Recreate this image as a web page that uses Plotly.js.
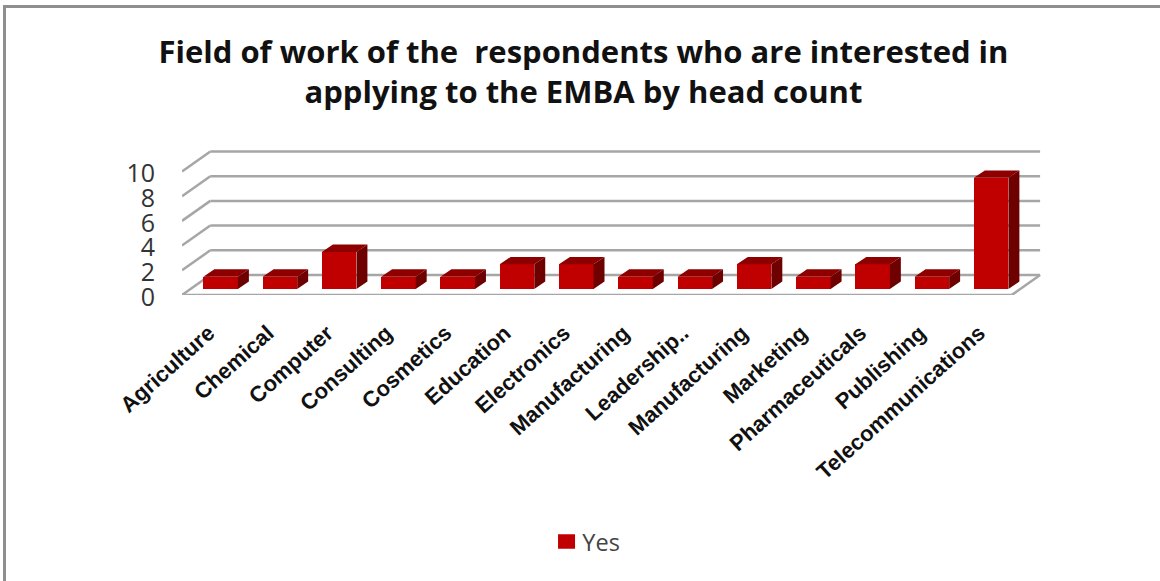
<!DOCTYPE html>
<html>
<head>
<meta charset="utf-8">
<script src="https://cdn.plot.ly/plotly-3.0.1.min.js"></script>
<style>
html,body{margin:0;padding:0;background:#fff;overflow:hidden}
#frame{position:absolute;left:3px;top:5px;width:1157px;height:576px;box-sizing:border-box;
  border-top:3px solid #8f8f8f;border-left:3px solid #8f8f8f}
#chart{position:absolute;left:0;top:0;width:1160px;height:581px}
</style>
</head>
<body>
<div id="frame"></div>
<div id="chart"></div>
<script>
// Head count per field of work
const categories = ["Agriculture","Chemical","Computer","Consulting","Cosmetics","Education","Electronics",
  "Manufacturing","Leadership..","Manufacturing","Marketing","Pharmaceuticals","Publishing","Telecommunications"];
const yesCounts = [1,1,3,1,1,2,2,1,1,2,1,2,1,9];
const valueTicks = [0,2,4,6,8,10];
const positions = categories.map((_, i) => i);

// Pseudo-3D projection, expressed in axis units
const BOX_DEPTH = {x: 0.478, y: 1.62};   // front plane to back wall
const BAR_OFFSET = {x: 0.152, y: 0.486}; // front plane to bar front face
const BAR_DEPTH = {x: 0.185, y: 0.6};    // bar front face to bar back face
const BAR_WIDTH = 0.583;
const X_START = -0.5, X_END = 13.5;

const RED = "#C00000", RED_TOP = "#8E0000", RED_SIDE = "#6E0000", GRID = "#A6A6A6";

const gridLine = (x0, y0, x1, y1) => ({type: "line", layer: "below", xref: "x", yref: "y",
  x0, y0, x1, y1, line: {color: GRID, width: 2.5}});

// Back-wall gridlines and left-wall diagonals for every value tick
const shapes = [];
valueTicks.forEach(v => {
  shapes.push(gridLine(X_START + BOX_DEPTH.x, v + BOX_DEPTH.y, X_END + BOX_DEPTH.x, v + BOX_DEPTH.y));
  shapes.push(gridLine(X_START, v, X_START + BOX_DEPTH.x, v + BOX_DEPTH.y));
});
// Floor edges
shapes.push(gridLine(X_START, 0, X_END, 0));
shapes.push(gridLine(X_END, 0, X_END + BOX_DEPTH.x, BOX_DEPTH.y));

// Top and side faces of each bar, as closed polygons separated by gaps
const topX = [], topY = [], sideX = [], sideY = [];
yesCounts.forEach((v, i) => {
  const l = i + BAR_OFFSET.x - BAR_WIDTH / 2, r = l + BAR_WIDTH, b = BAR_OFFSET.y, t = b + v;
  topX.push(l, r, r + BAR_DEPTH.x, l + BAR_DEPTH.x, l, null);
  topY.push(t, t, t + BAR_DEPTH.y, t + BAR_DEPTH.y, t, null);
  sideX.push(r, r + BAR_DEPTH.x, r + BAR_DEPTH.x, r, r, null);
  sideY.push(b, b + BAR_DEPTH.y, t + BAR_DEPTH.y, t, b, null);
});

const face = (x, y, color) => ({x, y, type: "scatter", mode: "lines", fill: "toself", fillcolor: color,
  line: {width: 0, color}, showlegend: false, hoverinfo: "skip", cliponaxis: false});

const traces = [
  {type: "bar", name: "Yes", x: positions.map(i => i + BAR_OFFSET.x), y: yesCounts,
   base: yesCounts.map(() => BAR_OFFSET.y), width: BAR_WIDTH,
   marker: {color: RED, line: {color: RED, width: 0}}},
  face(topX, topY, RED_TOP),
  face(sideX, sideY, RED_SIDE)
];

const layout = {
  width: 1160, height: 581,
  paper_bgcolor: "rgba(0,0,0,0)", plot_bgcolor: "rgba(0,0,0,0)",
  margin: {l: 182, r: 118, t: 149, b: 286, pad: 0},
  title: {
    text: "Field of work of the \u00a0respondents who are interested in<br>applying to the EMBA by head count",
    font: {family: "'Open Sans', 'Noto Sans', sans-serif", size: 31, color: "#111", weight: 700},
    x: 0.503, xanchor: "center", xref: "container", y: 0.892, yanchor: "top"
  },
  xaxis: {
    range: [X_START, 14.01], tickmode: "array", tickvals: positions, ticktext: categories,
    tickangle: -42, showgrid: false, zeroline: false, showline: false, ticks: "",
    ticklabelstandoff: 20, ticklabelshift: -3,
    tickfont: {family: "'Liberation Sans', Arial, sans-serif", size: 22, color: "#111", weight: 700},
    automargin: false
  },
  yaxis: {
    range: [0, 11.82], tickmode: "array", tickvals: valueTicks, ticktext: valueTicks.map(String),
    showgrid: false, zeroline: false, showline: false, ticks: "",
    ticklabelstandoff: 26, ticklabelshift: 2,
    tickfont: {family: "'Open Sans', 'Noto Sans', sans-serif", size: 25, color: "#333"},
    automargin: false
  },
  shapes,
  showlegend: true,
  legend: {orientation: "h", x: 0.419, xref: "paper", y: -1.69, yanchor: "middle", xanchor: "left",
    font: {family: "'Open Sans', 'Noto Sans', sans-serif", size: 23.5, color: "#444"}, itemwidth: 30},
  bargap: 0
};

// Widen the legend swatch and keep it next to its label
function restyleSwatch() {
  document.querySelectorAll("#chart .legendpoints path").forEach(p => {
    p.setAttribute("d", "M12.7,7.3H-4.3V-7.3H12.7Z");
  });
}

Plotly.newPlot("chart", traces, layout, {displayModeBar: false, responsive: false}).then(gd => {
  restyleSwatch();
  gd.on("plotly_afterplot", restyleSwatch);
});
</script>
</body>
</html>
